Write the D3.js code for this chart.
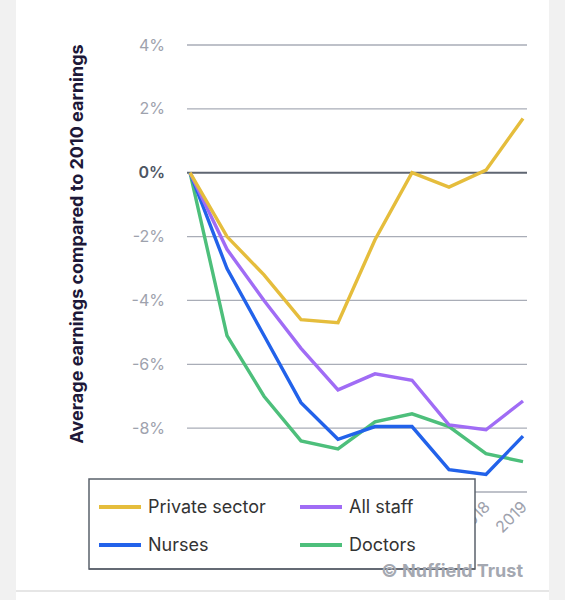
<!DOCTYPE html>
<html>
<head>
<meta charset="utf-8">
<script src="https://cdn.jsdelivr.net/npm/d3@7"></script>
<style>
  html, body { margin: 0; padding: 0; background: #f1f1f1; }
  svg { display: block; }
</style>
</head>
<body>
<svg id="chart" width="565" height="600"></svg>
<script>
  const years = [2010, 2011, 2012, 2013, 2014, 2015, 2016, 2017, 2018, 2019];
  const privateSector = [0, -2.0, -3.2, -4.6, -4.7, -2.1, 0.0, -0.45, 0.08, 1.7];
  const allStaff = [0, -2.4, -4.0, -5.5, -6.8, -6.3, -6.5, -7.9, -8.05, -7.15];
  const nurses = [0, -3.0, -5.1, -7.2, -8.35, -7.95, -7.95, -9.3, -9.45, -8.25];
  const doctors = [0, -5.1, -7.0, -8.4, -8.65, -7.8, -7.55, -7.95, -8.8, -9.05];
  const yTicks = [-10, -8, -6, -4, -2, 0, 2, 4];

  const series = [
    { name: 'Private sector', values: privateSector, color: '#e5bd3c' },
    { name: 'All staff', values: allStaff, color: '#a06cf5' },
    { name: 'Nurses', values: nurses, color: '#2262ea' },
    { name: 'Doctors', values: doctors, color: '#4dbf7b' }
  ];
  // draw order: doctors at the back, private sector on top
  const drawOrder = [series[3], series[2], series[1], series[0]];

  const svg = d3.select('#chart');
  const font = 'Inter, Roboto, "Noto Sans", sans-serif';

  // card
  svg.append('rect')
    .attr('x', 16).attr('y', 0)
    .attr('width', 533).attr('height', 600)
    .attr('fill', '#fff');
  svg.append('line')
    .attr('x1', 16).attr('x2', 549)
    .attr('y1', 591).attr('y2', 591)
    .attr('stroke', '#e6e6e6').attr('stroke-width', 2);

  const xScale = d3.scaleLinear()
    .domain([2010, 2019])
    .range([190, 523]);
  const yScale = d3.scaleLinear()
    .domain([-10, 4])
    .range([492, 45]);

  // grid
  let grid = svg.append('g');
  grid.selectAll('line')
    .data(yTicks)
    .enter()
    .append('line')
    .attr('x1', 187)
    .attr('x2', 527)
    .attr('y1', d => yScale(d))
    .attr('y2', d => yScale(d))
    .attr('stroke', d => d === 0 ? '#5f6672' : '#a9adb7')
    .attr('stroke-width', d => d === 0 ? 2 : 1.3);

  // y tick labels
  svg.append('g').selectAll('text')
    .data(yTicks.filter(d => d !== -10))
    .enter()
    .append('text')
    .attr('x', 165)
    .attr('y', d => yScale(d))
    .attr('dy', '0.35em')
    .attr('text-anchor', 'end')
    .attr('font-family', font)
    .attr('font-size', '16px')
    .attr('font-weight', d => d === 0 ? 600 : 400)
    .attr('fill', d => d === 0 ? '#4d5563' : '#9ea2ad')
    .text(d => d + '%');

  // y title
  svg.append('text')
    .attr('transform', 'translate(83,244) rotate(-90)')
    .attr('text-anchor', 'middle')
    .attr('font-family', font)
    .attr('font-size', '18px')
    .attr('font-weight', 700)
    .attr('fill', '#1d1838')
    .text('Average earnings compared to 2010 earnings');

  // x tick labels
  svg.append('g').selectAll('text')
    .data(years)
    .enter()
    .append('text')
    .attr('transform', d => `translate(${xScale(d) + 5},508) rotate(-45)`)
    .attr('text-anchor', 'end')
    .attr('font-family', font)
    .attr('font-size', '16px')
    .attr('fill', '#9ea2ad')
    .text(d => d);

  // lines
  let line = d3.line()
    .x((d, i) => xScale(years[i]))
    .y(d => yScale(d));

  svg.append('g').selectAll('path')
    .data(drawOrder)
    .enter()
    .append('path')
    .attr('d', d => line(d.values))
    .attr('fill', 'none')
    .attr('stroke', d => d.color)
    .attr('stroke-width', 3.4)
    .attr('stroke-linejoin', 'miter');

  // legend
  let legend = svg.append('g');
  legend.append('rect')
    .attr('x', 89).attr('y', 479)
    .attr('width', 386).attr('height', 90)
    .attr('fill', '#fff')
    .attr('stroke', '#5a616b')
    .attr('stroke-width', 1.5);

  let item = legend.selectAll('g')
    .data(series)
    .enter()
    .append('g')
    .attr('transform', (d, i) => `translate(${i % 2 === 0 ? 99 : 300},${i < 2 ? 507 : 545})`);
  item.append('line')
    .attr('x1', 0).attr('x2', 42)
    .attr('stroke', d => d.color)
    .attr('stroke-width', 4);
  item.append('text')
    .attr('x', 49)
    .attr('dy', '0.35em')
    .attr('font-family', font)
    .attr('font-size', '18px')
    .attr('fill', '#333')
    .text(d => d.name);

  // credit
  svg.append('text')
    .attr('x', 523)
    .attr('y', 577)
    .attr('text-anchor', 'end')
    .attr('font-family', font)
    .attr('font-size', '18px')
    .attr('font-weight', 700)
    .attr('fill', '#a4a8b1')
    .text('© Nuffield Trust');

  // legend border drawn over credit text
  legend.append('line')
    .attr('x1', 89).attr('x2', 475)
    .attr('y1', 569).attr('y2', 569)
    .attr('stroke', '#5a616b')
    .attr('stroke-width', 1.5);
</script>
</body>
</html>
